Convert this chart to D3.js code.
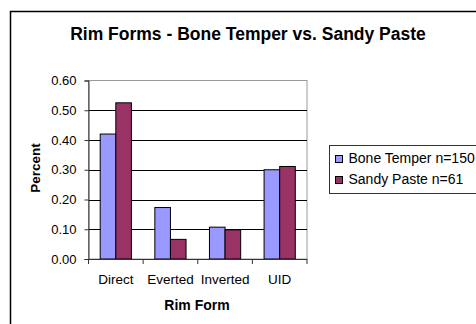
<!DOCTYPE html>
<html>
<head>
<meta charset="utf-8">
<script src="https://cdn.jsdelivr.net/npm/d3@7"></script>
<style>
  html, body { margin: 0; padding: 0; background: #fff; }
  svg { display: block; font-family: Arial, "Liberation Sans", sans-serif; }
</style>
</head>
<body>
<svg id="chart" width="476" height="324"></svg>
<script>
// Rim form proportions by paste type
const categories = ["Direct", "Everted", "Inverted", "UID"];
const boneTemper = [0.42, 0.173, 0.107, 0.30];
const sandyPaste = [0.525, 0.066, 0.098, 0.311];
const seriesNames = ["Bone Temper n=150", "Sandy Paste n=61"];
const seriesColors = ["#9999FF", "#993366"];
const yTicks = [0, 0.1, 0.2, 0.3, 0.4, 0.5, 0.6];

const svg = d3.select("#chart");
const W = 476, H = 324;

// outer chart frame
svg.append("rect")
  .attr("x", 10.5).attr("y", 11.5)
  .attr("width", W).attr("height", H)
  .attr("fill", "#fff").attr("stroke", "#000").attr("stroke-width", 1.5);

const plot = { left: 88.5, right: 307, top: 80.5, bottom: 259 };

const x = d3.scaleBand().domain(categories).range([plot.left, plot.right]);
const y = d3.scaleLinear().domain([0, 0.6]).range([plot.bottom, plot.top]);

// plot area border (light)
svg.append("rect")
  .attr("x", plot.left).attr("y", plot.top)
  .attr("width", plot.right - plot.left).attr("height", plot.bottom - plot.top)
  .attr("fill", "none").attr("stroke", "#999").attr("stroke-width", 1);

// gridlines
svg.append("g").selectAll("line")
  .data(yTicks.filter(t => t > 0 && t < 0.6))
  .join("line")
  .attr("x1", plot.left).attr("x2", plot.right)
  .attr("y1", d => Math.round(y(d)) + 0.5).attr("y2", d => Math.round(y(d)) + 0.5)
  .attr("stroke", "#000").attr("stroke-width", 1);

// bars
const bw = x.bandwidth() / 3.5;
const series = [boneTemper, sandyPaste];
series.forEach((vals, si) => {
  svg.append("g").selectAll("rect")
    .data(vals)
    .join("rect")
    .attr("x", (d, i) => x(categories[i]) + x.bandwidth() / 2 - bw + si * bw)
    .attr("y", d => y(d))
    .attr("width", bw)
    .attr("height", d => y(0) - y(d))
    .attr("fill", seriesColors[si])
    .attr("stroke", "#000").attr("stroke-width", 1);
});

// y axis
const yAxis = d3.axisLeft(y).tickValues(yTicks).tickFormat(d3.format(".2f")).tickSizeOuter(0).tickSize(4).tickPadding(8);
const gy = svg.append("g").attr("transform", `translate(${plot.left},0)`).call(yAxis);
gy.select(".domain").attr("stroke", "#333");
gy.selectAll(".tick line").attr("stroke", "#333");
gy.selectAll("text").attr("font-size", 13).attr("fill", "#000").attr("font-family", "Arial, 'Liberation Sans', sans-serif");

// x axis
const gx = svg.append("g").attr("transform", `translate(0,${plot.bottom})`);
gx.append("line").attr("x1", plot.left).attr("x2", plot.right).attr("y1", 0.5).attr("y2", 0.5).attr("stroke", "#333");
gx.selectAll(".tk").data(categories.concat(["_end"]))
  .join("line")
  .attr("x1", (d, i) => plot.left + i * x.step()).attr("x2", (d, i) => plot.left + i * x.step())
  .attr("y1", 0).attr("y2", 5).attr("stroke", "#333");
gx.selectAll("text").data(categories)
  .join("text")
  .attr("x", d => x(d) + x.bandwidth() / 2)
  .attr("y", 24.5)
  .attr("text-anchor", "middle")
  .attr("font-size", 13.5)
  .text(d => d);

// title
svg.append("text")
  .attr("x", 248).attr("y", 40)
  .attr("text-anchor", "middle")
  .attr("font-size", 17.5).attr("font-weight", "bold")
  .text("Rim Forms - Bone Temper vs. Sandy Paste");

// axis titles
svg.append("text")
  .attr("transform", "translate(40,168) rotate(-90)")
  .attr("text-anchor", "middle")
  .attr("font-size", 13.5).attr("font-weight", "bold")
  .text("Percent");
svg.append("text")
  .attr("x", 197).attr("y", 310)
  .attr("text-anchor", "middle")
  .attr("font-size", 14).attr("font-weight", "bold")
  .text("Rim Form");

// legend
const lg = svg.append("g");
lg.append("rect")
  .attr("x", 329.5).attr("y", 145.5).attr("width", 160).attr("height", 48)
  .attr("fill", "#fff").attr("stroke", "#333").attr("stroke-width", 1);
seriesNames.forEach((name, i) => {
  lg.append("rect")
    .attr("x", 335.5).attr("y", 155.5 + i * 21).attr("width", 7).attr("height", 7)
    .attr("fill", seriesColors[i]).attr("stroke", "#000");
  lg.append("text")
    .attr("x", 348.5).attr("y", 162.5 + i * 21)
    .attr("font-size", 14)
    .text(name);
});
</script>
</body>
</html>
